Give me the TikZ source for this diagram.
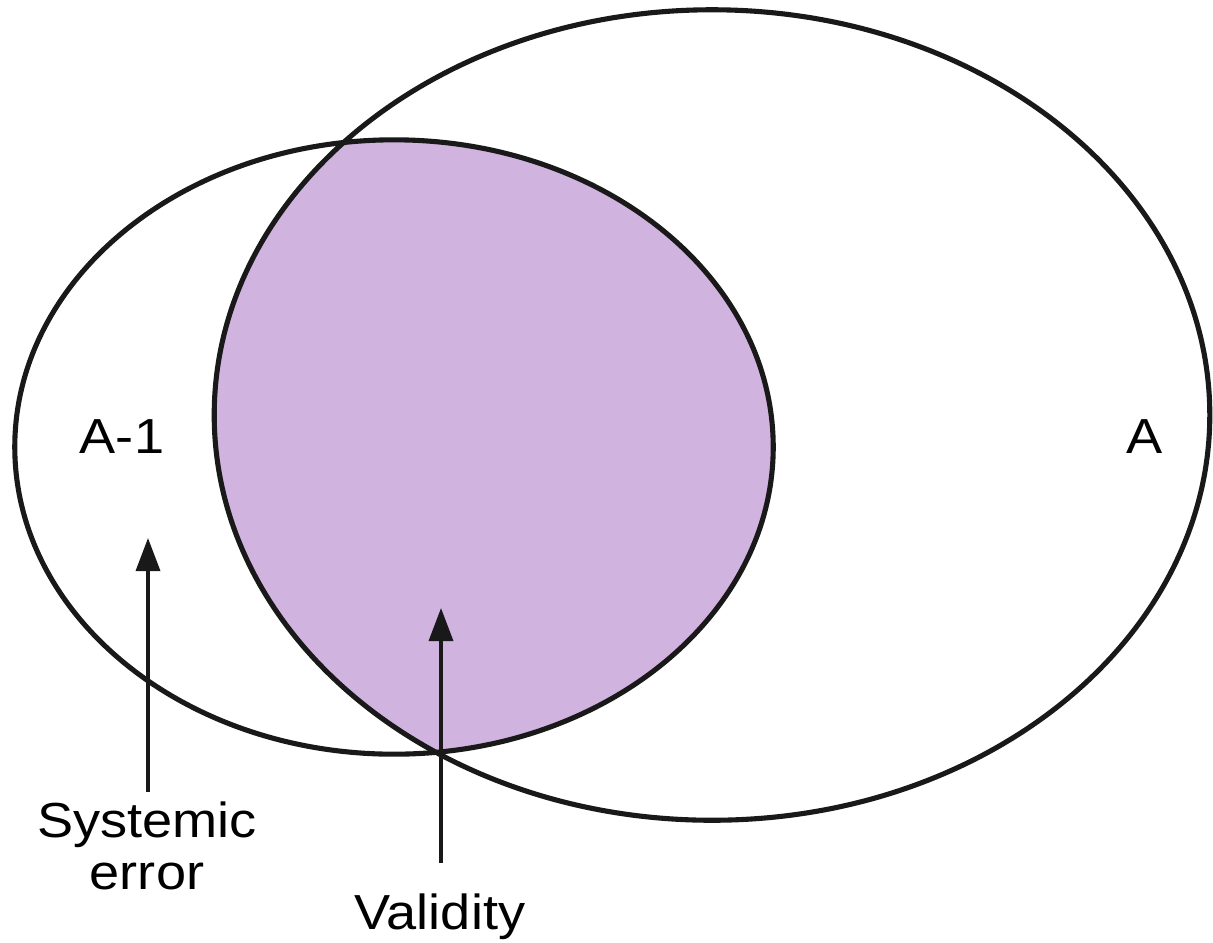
\documentclass[tikz,border=0pt]{standalone}
\usepackage{fontspec}
\setmainfont{Liberation Sans}
\usetikzlibrary{arrows.meta}
\definecolor{validfill}{RGB}{209,179,224}
\begin{document}
\begin{tikzpicture}[
      x=0.01cm, y=-0.01cm,
      setline/.style = {
        draw=black!90,
        line width=1.45pt
      }, pointer/.style = {
        draw=black!90,
        line width=1pt,
        -{Triangle[length=3.3mm,width=2.4mm]}
      }, lbl/.style = {
        inner sep=0pt,
        align=center,
        xscale=1.1,
        font=\fontsize{14}{15}\selectfont
      }
    ]
      \useasboundingbox (0,0) rectangle (1213,942);
      \coordinate (ctrA) at (712,415);
      \coordinate (ctrB) at (394,447);
      % shaded overlap
      \begin{scope}
        \clip (ctrA) ellipse [x radius=4.975cm, y radius=4.05cm];
        \fill[validfill] (ctrB) ellipse [x radius=3.79cm, y radius=3.07cm];
      \end{scope}
      \draw[setline] (ctrB) ellipse [x radius=3.79cm, y radius=3.07cm];
      \draw[setline] (ctrA) ellipse [x radius=4.975cm, y radius=4.05cm];
      \node[lbl] (setB) at (122,437) {A-1};
      \node[lbl] (setA) at (1145,437) {A};
      \node[lbl] (errlbl) at (147,846) {Systemic\\error};
      \node[lbl] (vallbl) at (440,917) {Validity};
      \coordinate (errfoot) at (148,792);
      \coordinate (errtip)  at (148,538);
      \coordinate (valfoot) at (441,863);
      \coordinate (valtip)  at (441,608);
      \draw[pointer] (errfoot) -- (errtip);
      \draw[pointer] (valfoot) -- (valtip);
    \end{tikzpicture}
\end{document}
